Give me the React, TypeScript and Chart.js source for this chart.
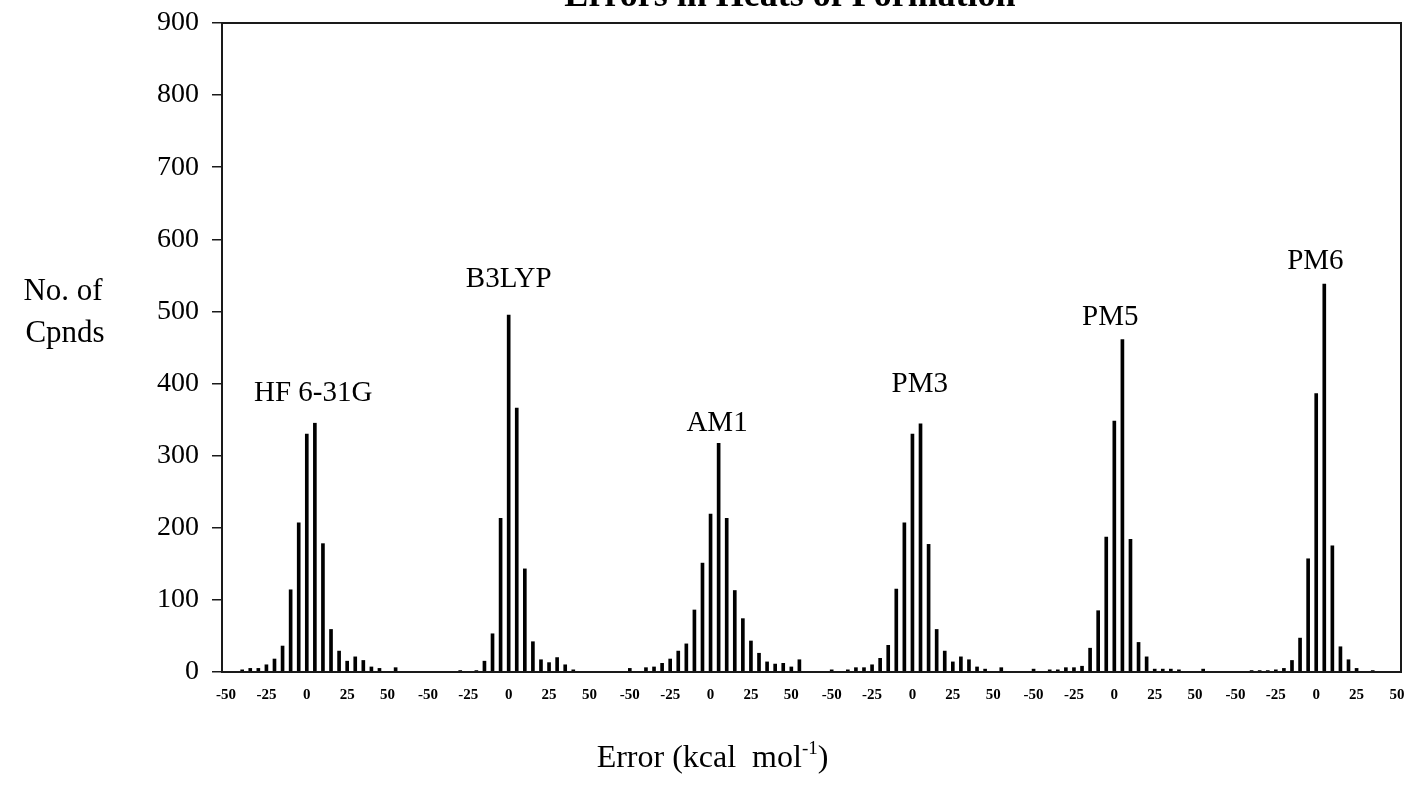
import React, { useEffect, useRef } from "react";
import { Chart, registerables } from "chart.js";

Chart.register(...registerables);

const FONT = '"Liberation Serif", "Times New Roman", serif';

// Methods (one histogram panel each)
const methods = ["HF 6-31G", "B3LYP", "AM1", "PM3", "PM5", "PM6"];

// Error bins (kcal/mol), 5 kcal/mol wide; the last bin (55) collects > 50
const errorBins = [-50, -45, -40, -35, -30, -25, -20, -15, -10, -5, 0, 5, 10, 15, 20, 25, 30, 35, 40, 45, 50, 55];
const labelledBins = [-50, -25, 0, 25, 50];

// Number of compounds per bin
const hfCounts = [0, 0, 3, 5, 5, 10, 18, 36, 114, 207, 330, 345, 178, 59, 29, 15, 21, 16, 7, 5, 0, 6];
const b3lypCounts = [0, 0, 0, 0, 2, 0, 2, 15, 53, 213, 495, 366, 143, 42, 17, 13, 20, 10, 3, 0, 0, 0];
const am1Counts = [5, 0, 6, 7, 12, 18, 29, 39, 86, 151, 219, 317, 213, 113, 74, 43, 26, 14, 11, 12, 7, 17];
const pm3Counts = [3, 0, 3, 6, 6, 10, 19, 37, 115, 207, 330, 344, 177, 59, 29, 14, 21, 17, 7, 4, 0, 6];
const pm5Counts = [4, 0, 3, 3, 6, 6, 8, 33, 85, 187, 348, 461, 184, 41, 21, 4, 4, 4, 3, 0, 0, 4];
const pm6Counts = [0, 0, 2, 2, 2, 3, 5, 16, 47, 157, 386, 538, 175, 35, 17, 5, 0, 2, 0, 0, 0, 0];

const yMax = 900;
const yStep = 100;

// empty category slots between panels; the axis ends at +50 of the last panel
const gapSlots = 3;

// method-name anchors in data units: shift in bins from the 0 bin, and count level
const nameBinShift = [0.8, 0, 0.8, 0.9, -0.5, -0.1];
const nameLevel = [387, 545, 345, 399, 492, 570];

const groups = [hfCounts, b3lypCounts, am1Counts, pm3Counts, pm5Counts, pm6Counts];

export default function App() {
  const ref = useRef<HTMLCanvasElement>(null);

  useEffect(() => {
    const canvas = ref.current;
    if (!canvas) return;

    const slotIds: string[] = [];
    const tickText: string[] = [];
    const values: (number | null)[] = [];
    const groupStart: number[] = [];
    groups.forEach((counts, g) => {
      groupStart.push(slotIds.length);
      errorBins.forEach((b, j) => {
        const lastPanelOverflow = g === groups.length - 1 && b > 50;
        if (lastPanelOverflow) return;
        slotIds.push(`g${g}b${b}`);
        tickText.push(labelledBins.includes(b) ? String(b) : "");
        values.push(counts[j]);
      });
      if (g < groups.length - 1) {
        for (let s = 0; s < gapSlots; s++) {
          slotIds.push(`g${g}gap${s}`);
          tickText.push("");
          values.push(null);
        }
      }
    });
    const zeroIndex = errorBins.indexOf(0);

    const textPlugin = {
      id: "texts",
      afterDraw(chart: any) {
        const { ctx, chartArea, scales } = chart;
        const xs = scales.x;
        const ys = scales.y;
        ctx.save();
        // frame
        ctx.strokeStyle = "#1a1a1a";
        ctx.lineWidth = 2;
        ctx.strokeRect(chartArea.left, chartArea.top, chartArea.right - chartArea.left, chartArea.bottom - chartArea.top);

        ctx.fillStyle = "#000";
        // title (cut off at the top edge, as in the reference)
        ctx.font = `bold 36px ${FONT}`;
        ctx.textAlign = "center";
        ctx.textBaseline = "alphabetic";
        ctx.fillText("Errors in Heats of Formation", 790, 6);

        // method names
        ctx.font = `29px ${FONT}`;
        ctx.textBaseline = "middle";
        methods.forEach((m, g) => {
          const px = xs.getPixelForValue(groupStart[g] + zeroIndex + nameBinShift[g]);
          const py = ys.getPixelForValue(nameLevel[g]);
          ctx.fillText(m, px, py);
        });

        // y title
        ctx.font = `31px ${FONT}`;
        ctx.fillText("No. of", 63, 292);
        ctx.fillText("Cpnds", 65, 334);

        // x title with superscript
        ctx.textBaseline = "alphabetic";
        ctx.textAlign = "left";
        const main = "Error (kcal  mol";
        const sup = "-1";
        const close = ")";
        ctx.font = `32px ${FONT}`;
        const w1 = ctx.measureText(main).width;
        const w3 = ctx.measureText(close).width;
        ctx.font = `19px ${FONT}`;
        const w2 = ctx.measureText(sup).width;
        const total = w1 + w2 + w3;
        const cx = (chartArea.left + chartArea.right) / 2 - 99;
        const x0 = cx - total / 2;
        const base = 767;
        ctx.font = `32px ${FONT}`;
        ctx.fillText(main, x0, base);
        ctx.font = `19px ${FONT}`;
        ctx.fillText(sup, x0 + w1, base - 13);
        ctx.font = `32px ${FONT}`;
        ctx.fillText(close, x0 + w1 + w2, base);
        ctx.restore();
      },
    };

    const chart = new Chart(canvas, {
      type: "bar",
      data: {
        labels: slotIds,
        datasets: [
          {
            data: values,
            backgroundColor: "#000",
            borderWidth: 0,
            barThickness: 3,
          },
        ],
      },
      options: {
        animation: false,
        responsive: false,
        devicePixelRatio: 1,
        layout: { padding: { top: 23, right: 13, left: 0, bottom: 0 } },
        plugins: { legend: { display: false }, tooltip: { enabled: false }, title: { display: false } },
        scales: {
          x: {
            type: "category",
            offset: true,
            grid: { display: false },
            border: { display: false },
            ticks: {
              autoSkip: false,
              maxRotation: 0,
              minRotation: 0,
              padding: 6,
              color: "#000",
              font: { family: FONT, size: 15, weight: "bold" },
              callback: (v: any) => tickText[v as number],
            },
            afterFit: (s: any) => {
              s.height = 115;
              s.paddingLeft = 0;
              s.paddingRight = 0;
            },
          },
          y: {
            min: 0,
            max: yMax,
            ticks: {
              stepSize: yStep,
              padding: 13,
              color: "#000",
              font: { family: FONT, size: 28 },
            },
            grid: {
              drawOnChartArea: false,
              drawTicks: true,
              tickLength: 10,
              color: "#1a1a1a",
              lineWidth: 1.5,
            },
            border: { display: false },
            afterFit: (s: any) => {
              s.width = 222;
              s.paddingTop = 0;
              s.paddingBottom = 0;
            },
          },
        },
      },
      plugins: [textPlugin],
    });

    return () => chart.destroy();
  }, []);

  return (
    <div style={{ position: "absolute", left: 0, top: 0, width: 1414, height: 787, background: "#fff" }}>
      <canvas ref={ref} width={1414} height={787} style={{ display: "block" }} />
    </div>
  );
}
